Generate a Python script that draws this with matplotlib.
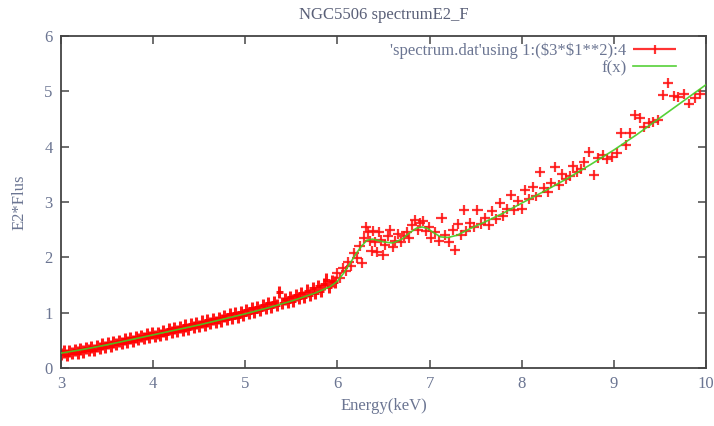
import matplotlib
matplotlib.use('Agg')
import matplotlib.pyplot as plt
from matplotlib.legend_handler import HandlerErrorbar
import numpy as np

# spectrum points, low energy band (dense channels)
e_low = [3.00, 3.03, 3.06, 3.09, 3.12, 3.15, 3.18, 3.21, 3.24, 3.27,
         3.30, 3.33, 3.36, 3.39, 3.42, 3.45, 3.48, 3.51, 3.54, 3.57,
         3.60, 3.63, 3.66, 3.69, 3.72, 3.75, 3.78, 3.81, 3.84, 3.87,
         3.90, 3.93, 3.96, 3.99, 4.02, 4.05, 4.08, 4.11, 4.14, 4.17,
         4.20, 4.23, 4.26, 4.29, 4.32, 4.35, 4.38, 4.41, 4.44, 4.47,
         4.50, 4.53, 4.56, 4.59, 4.62, 4.65, 4.68, 4.71, 4.74, 4.77,
         4.80, 4.83, 4.86, 4.89, 4.92, 4.95, 4.98, 5.01, 5.04, 5.07,
         5.10, 5.13, 5.16, 5.19, 5.22, 5.25, 5.28, 5.31, 5.34, 5.37,
         5.40, 5.43, 5.46, 5.49, 5.52, 5.55, 5.58, 5.61, 5.64, 5.67,
         5.70, 5.73, 5.76, 5.79, 5.82, 5.85, 5.88, 5.91, 5.94, 5.97]
f_low = [0.26, 0.30, 0.24, 0.31, 0.27, 0.32, 0.28, 0.35, 0.30, 0.36,
         0.32, 0.38, 0.33, 0.40, 0.36, 0.43, 0.38, 0.45, 0.40, 0.47,
         0.43, 0.49, 0.45, 0.52, 0.47, 0.54, 0.49, 0.56, 0.52, 0.58,
         0.54, 0.61, 0.56, 0.63, 0.58, 0.64, 0.60, 0.67, 0.62, 0.70,
         0.65, 0.72, 0.67, 0.74, 0.69, 0.77, 0.71, 0.79, 0.74, 0.81,
         0.76, 0.84, 0.78, 0.86, 0.81, 0.89, 0.83, 0.91, 0.86, 0.94,
         0.88, 0.97, 0.91, 1.00, 0.93, 1.02, 0.96, 1.05, 0.99, 1.08,
         1.02, 1.11, 1.05, 1.14, 1.08, 1.17, 1.11, 1.20, 1.14, 1.38,
         1.17, 1.25, 1.20, 1.29, 1.22, 1.32, 1.26, 1.36, 1.29, 1.40,
         1.32, 1.44, 1.36, 1.48, 1.40, 1.52, 1.60, 1.47, 1.58, 1.55]

# line region and above
e_high = [6.00, 6.03, 6.06, 6.09, 6.12, 6.15, 6.18, 6.21, 6.24, 6.27,
          6.29, 6.31, 6.33, 6.35, 6.37, 6.39, 6.41, 6.43, 6.45, 6.47,
          6.50, 6.52, 6.55, 6.57, 6.60, 6.63, 6.66, 6.69, 6.72, 6.75,
          6.78, 6.81, 6.84, 6.87, 6.90, 6.93, 6.96, 6.99, 7.02, 7.06,
          7.10, 7.13, 7.17, 7.21, 7.25, 7.28, 7.31, 7.34, 7.37, 7.40,
          7.44, 7.48, 7.52, 7.56, 7.60, 7.64, 7.68, 7.72, 7.76, 7.80,
          7.84, 7.88, 7.92, 7.96, 8.00, 8.04, 8.08, 8.12, 8.16, 8.20,
          8.24, 8.28, 8.32, 8.36, 8.40, 8.44, 8.48, 8.52, 8.56, 8.60,
          8.64, 8.68, 8.73, 8.78, 8.83, 8.88, 8.93, 8.98, 9.03, 9.08,
          9.13, 9.18, 9.23, 9.28, 9.33, 9.38, 9.43, 9.48, 9.53, 9.59,
          9.65, 9.70, 9.76, 9.82, 9.88, 9.94]
f_high = [1.72, 1.62, 1.80, 1.75, 1.92, 1.85, 2.08, 1.98, 2.20, 1.90,
          2.35, 2.55, 2.45, 2.30, 2.12, 2.48, 2.28, 2.10, 2.45, 2.32,
          2.04, 2.22, 2.38, 2.50, 2.18, 2.30, 2.42, 2.28, 2.38, 2.45,
          2.35, 2.58, 2.68, 2.50, 2.62, 2.65, 2.48, 2.55, 2.35, 2.45,
          2.30, 2.72, 2.40, 2.28, 2.50, 2.13, 2.60, 2.40, 2.85, 2.48,
          2.62, 2.55, 2.85, 2.60, 2.72, 2.58, 2.84, 2.70, 2.98, 2.75,
          2.88, 3.12, 2.85, 3.02, 2.88, 3.22, 3.05, 3.28, 3.10, 3.55,
          3.25, 3.18, 3.35, 3.64, 3.30, 3.50, 3.42, 3.47, 3.65, 3.55,
          3.60, 3.72, 3.91, 3.49, 3.80, 3.85, 3.78, 3.82, 3.88, 4.24,
          4.03, 4.24, 4.57, 4.52, 4.35, 4.42, 4.45, 4.48, 4.94, 5.15,
          4.92, 4.90, 4.96, 4.78, 4.88, 4.95]

# fitted model f(x)
e_fit = [3.0, 3.25, 3.5, 3.75, 4.0, 4.25, 4.5, 4.75, 5.0, 5.25, 5.5, 5.75,
         5.92, 6.0, 6.07, 6.14, 6.2, 6.26, 6.32, 6.38, 6.43, 6.5, 6.6, 6.7,
         6.78, 6.86, 6.92, 6.98, 7.05, 7.12, 7.2, 7.3, 7.44, 7.6, 7.8, 8.0,
         8.25, 8.5, 8.75, 9.0, 9.25, 9.5, 9.75, 10.0]
f_fit = [0.27, 0.34, 0.42, 0.51, 0.60, 0.69, 0.78, 0.88, 0.98, 1.09, 1.21, 1.35,
         1.47, 1.57, 1.72, 1.90, 2.06, 2.20, 2.31, 2.33, 2.31, 2.28, 2.26, 2.33,
         2.44, 2.53, 2.55, 2.52, 2.44, 2.37, 2.36, 2.40, 2.52, 2.64, 2.80, 2.98,
         3.20, 3.43, 3.68, 3.94, 4.22, 4.52, 4.82, 5.12]

txt_color = '#6b7592'
plt.rcParams['font.family'] = ['Liberation Serif', 'DejaVu Serif']
plt.rcParams['font.size'] = 11

fig = plt.figure(figsize=(7.14, 4.26), dpi=100)
ax = fig.add_axes([0.0854, 0.136, 0.9034, 0.7795])

ax.errorbar(e_low, f_low, xerr=0.035, yerr=0.11, fmt='none', ecolor='#ff0000',
            elinewidth=2.2, alpha=0.9)
eb = ax.errorbar(e_high, f_high, xerr=0.055, yerr=0.09, fmt='none',
                 ecolor='#ff1010', elinewidth=1.6, capsize=0, alpha=0.85)
ln, = ax.plot(e_fit, f_fit, color='#44cc22', lw=1.2, alpha=0.9, zorder=5)

ax.set_xlim(3, 10)
ax.set_ylim(0, 6)
ax.set_xticks(range(3, 11))
ax.set_yticks(range(0, 7))
ax.tick_params(direction='in', top=True, right=True, length=6, width=1.2,
               colors='#555555', labelcolor=txt_color, labelsize=12, pad=6)
for s in ax.spines.values():
    s.set_color('#444444')
    s.set_linewidth(1.3)

ax.set_xlabel('Energy(keV)', color=txt_color, fontsize=12, labelpad=4)
ax.set_ylabel('E2*Flus', color=txt_color, fontsize=12, labelpad=12)
ax.set_title('NGC5506 spectrumE2_F', color='#5a6078', fontsize=12, pad=12)

leg = ax.legend([eb, ln], ["'spectrum.dat'using 1:(\\$3*\\$1**2):4", 'f(x)'],
                loc='upper right', bbox_to_anchor=(0.972, 1.015),
                frameon=False, markerfirst=False,
                fontsize=12, handlelength=2.6, borderaxespad=0.3,
                labelspacing=0.05, handletextpad=0.4,
                handler_map={type(eb): HandlerErrorbar(xerr_size=1.3, yerr_size=0.25)})
for t in leg.get_texts():
    t.set_color(txt_color)

fig.savefig('out.png', dpi=100)
